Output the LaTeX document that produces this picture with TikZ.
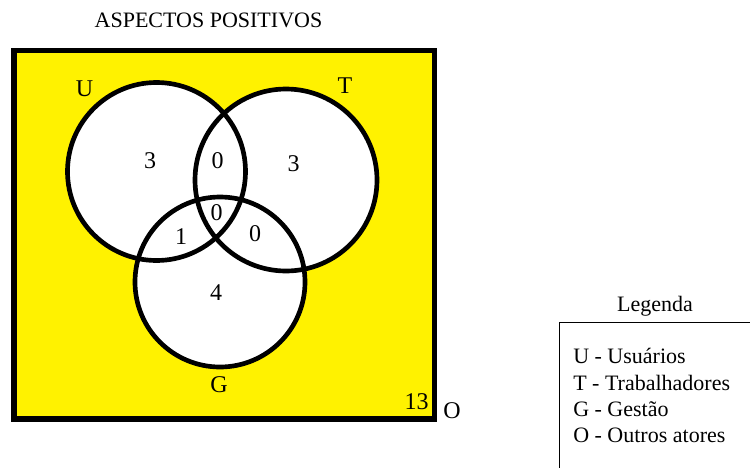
\documentclass[tikz,border=0pt]{standalone}
\usepackage{fontspec}
\setmainfont{Liberation Serif}
\definecolor{vyellow}{RGB}{255,242,0}
\begin{document}
\begin{tikzpicture}[x=0.75pt,y=-0.75pt,
  setline/.style={line width=3.5pt,draw=black},
  numlabel/.style={font=\fontsize{18}{18}\selectfont,inner sep=0pt},
  leglabel/.style={font=\fontsize{16.5}{16.5}\selectfont,inner sep=0pt,anchor=base west}]
\useasboundingbox (0,0) rectangle (750,468);
% universe
\filldraw[fill=vyellow,draw=black,line width=4pt] (14,50.5) rectangle (434.5,419);
% circle centres
\coordinate (cU) at (156.5,171.5);
\coordinate (cT) at (286,180);
\coordinate (cG) at (220,282);
% fills
\fill[white] (cU) circle[radius=66.75pt];
\fill[white] (cT) circle[radius=68.25pt];
\fill[white] (cG) circle[radius=63.75pt];
% outlines
\draw[setline] (cU) circle[radius=66.75pt];
\draw[setline] (cT) circle[radius=68.25pt];
\draw[setline] (cG) circle[radius=63.75pt];
% title
\node[font=\fontsize{16.5}{16.5}\selectfont,inner sep=0pt] (title) at (208.5,20.5) {ASPECTOS POSITIVOS};
% set labels
\node[numlabel] (lU) at (84.5,88.5) {U};
\node[numlabel] (lT) at (345,86) {T};
\node[numlabel] (lG) at (219,385) {G};
\node[numlabel] (lO) at (452,411) {O};
\node[numlabel] (n13) at (416.5,402) {13};
% region counts
\node[numlabel] (rU) at (150,161) {3};
\node[numlabel] (rUT) at (217.5,161) {0};
\node[numlabel] (rT) at (293.5,164) {3};
\node[numlabel] (rUTG) at (216.5,212.5) {0};
\node[numlabel] (rUG) at (181,237) {1};
\node[numlabel] (rTG) at (255,233.5) {0};
\node[numlabel] (rG) at (216,292.5) {4};
% legend
\node[font=\fontsize{16.5}{16.5}\selectfont,inner sep=0pt,anchor=base] (legt) at (655,311.5) {Legenda};
\coordinate (lbTL) at (559.5,322.5);
\coordinate (lbTR) at (750,322.5);
\coordinate (lbBL) at (559.5,468);
\draw[line width=0.9pt] (lbTR) -- (lbTL) -- (lbBL);
\node[leglabel] (leg1) at (573,363.5) {U - Usuários};
\node[leglabel] (leg2) at (573,390) {T - Trabalhadores};
\node[leglabel] (leg3) at (573,416.5) {G - Gestão};
\node[leglabel] (leg4) at (573,442) {O - Outros atores};
\end{tikzpicture}
\end{document}
